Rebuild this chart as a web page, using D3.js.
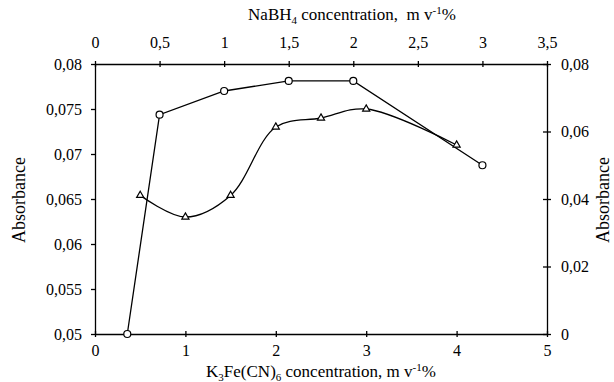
<!DOCTYPE html>
<html>
<head>
<meta charset="utf-8">
<script src="https://cdn.jsdelivr.net/npm/d3@7"></script>
<style>
  body { margin: 0; background: #fff; }
</style>
</head>
<body>
<svg id="chart" width="614" height="382"></svg>
<script>
// K3Fe(CN)6 series (bottom / left axes), triangles
var k3Conc = [0.5, 1, 1.5, 2, 2.5, 3, 4];
var k3Abs = [0.0654, 0.063, 0.0654, 0.073, 0.074, 0.075, 0.071];

// NaBH4 series (top / right axes), circles
var nabhConc = [0.25, 0.5, 1, 1.5, 2, 3];
var nabhAbs = [0, 0.065, 0.072, 0.075, 0.075, 0.050];

var bottomTicks = [0, 1, 2, 3, 4, 5];
var topTicks = [0, 0.5, 1, 1.5, 2, 2.5, 3, 3.5];
var leftTicks = [0.05, 0.055, 0.06, 0.065, 0.07, 0.075, 0.08];
var rightTicks = [0, 0.02, 0.04, 0.06, 0.08];

var serif = "'Liberation Serif'";

var svg = d3.select("#chart"),
    plotL = 95, plotR = 547, plotT = 64, plotB = 334;

var xBottom = d3.scaleLinear().domain([0, 5]).range([plotL, plotR]),
    xTop = d3.scaleLinear().domain([0, 3.5]).range([plotL, plotR]),
    yLeft = d3.scaleLinear().domain([0.05, 0.08]).range([plotB, plotT]),
    yRight = d3.scaleLinear().domain([0, 0.08]).range([plotB, plotT]);

var comma = function (d) { return String(d).replace(".", ","); };

function styleAxis(g) {
    g.attr("font-family", null);
    g.select(".domain").attr("stroke", "#000").attr("stroke-width", 1.3);
    g.selectAll(".tick line").attr("stroke", "#000").attr("stroke-width", 1.3);
    g.selectAll(".tick text").style("font-family", serif).style("font-size", "16px").attr("fill", "#000");
}

// bottom
var gB = svg.append("g").attr("transform", "translate(0," + plotB + ")")
    .call(d3.axisBottom(xBottom).tickValues(bottomTicks).tickFormat(comma).tickSizeInner(3).tickSizeOuter(0).tickPadding(8));
styleAxis(gB);
gB.selectAll(".tick line").attr("y1", -3);

// top
var gT = svg.append("g").attr("transform", "translate(0," + plotT + ")")
    .call(d3.axisTop(xTop).tickValues(topTicks).tickFormat(comma).tickSizeInner(3).tickSizeOuter(0).tickPadding(13));
styleAxis(gT);
gT.selectAll(".tick line").attr("y1", 3);

// left
var gL = svg.append("g").attr("transform", "translate(" + plotL + ",0)")
    .call(d3.axisLeft(yLeft).tickValues(leftTicks).tickFormat(comma).tickSizeInner(4).tickSizeOuter(0).tickPadding(9));
styleAxis(gL);

// right
var gR = svg.append("g").attr("transform", "translate(" + plotR + ",0)")
    .call(d3.axisRight(yRight).tickValues(rightTicks).tickFormat(comma).tickSizeInner(4).tickSizeOuter(0).tickPadding(10));
styleAxis(gR);
gR.selectAll(".tick line").attr("x1", -4);

// lines
var k3Data = k3Conc.map(function (c, i) { return [c, k3Abs[i]]; });
var nabhData = nabhConc.map(function (c, i) { return [c, nabhAbs[i]]; });

svg.append("path")
    .datum(k3Data)
    .attr("fill", "none").attr("stroke", "#000").attr("stroke-width", 1.3)
    .attr("d", d3.line()
        .x(function (d) { return xBottom(d[0]); })
        .y(function (d) { return yLeft(d[1]); })
        .curve(d3.curveCatmullRom.alpha(0.5)));

svg.append("path")
    .datum(nabhData)
    .attr("fill", "none").attr("stroke", "#000").attr("stroke-width", 1.3)
    .attr("d", d3.line()
        .x(function (d) { return xTop(d[0]); })
        .y(function (d) { return yRight(d[1]); }));

// markers
svg.selectAll(".tri")
    .data(k3Data).enter().append("path")
    .attr("class", "tri")
    .attr("transform", function (d) { return "translate(" + xBottom(d[0]) + "," + yLeft(d[1]) + ")"; })
    .attr("d", d3.symbol().type(d3.symbolTriangle).size(22))
    .attr("fill", "#fff").attr("stroke", "#000").attr("stroke-width", 1.2);

svg.selectAll(".circ")
    .data(nabhData).enter().append("circle")
    .attr("class", "circ")
    .attr("cx", function (d) { return xTop(d[0]); })
    .attr("cy", function (d) { return yRight(d[1]); })
    .attr("r", 3.5)
    .attr("fill", "#fff").attr("stroke", "#000").attr("stroke-width", 1.2);

// titles
var topTitle = svg.append("text").attr("x", 352).attr("y", 20)
    .attr("text-anchor", "middle").style("font-size", "17px").style("font-family", serif);
topTitle.append("tspan").text("NaBH");
topTitle.append("tspan").style("font-size", "11px").attr("dy", 4).text("4");
topTitle.append("tspan").attr("dy", -4).text(" concentration,\u00a0 m v");
topTitle.append("tspan").style("font-size", "11px").attr("dy", -6).text("-1");
topTitle.append("tspan").attr("dy", 6).text("%");

var botTitle = svg.append("text").attr("x", 321).attr("y", 377)
    .attr("text-anchor", "middle").style("font-size", "17px").style("font-family", serif);
botTitle.append("tspan").text("K");
botTitle.append("tspan").style("font-size", "11px").attr("dy", 4).text("3");
botTitle.append("tspan").attr("dy", -4).text("Fe(CN)");
botTitle.append("tspan").style("font-size", "11px").attr("dy", 4).text("6");
botTitle.append("tspan").attr("dy", -4).text(" concentration, m v");
botTitle.append("tspan").style("font-size", "11px").attr("dy", -6).text("-1");
botTitle.append("tspan").attr("dy", 6).text("%");

svg.append("text").attr("transform", "translate(25,200) rotate(-90)")
    .attr("text-anchor", "middle").style("font-size", "18px").style("font-family", serif).text("Absorbance");
svg.append("text").attr("transform", "translate(609,200) rotate(-90)")
    .attr("text-anchor", "middle").style("font-size", "18px").style("font-family", serif).text("Absorbance");
</script>
</body>
</html>
